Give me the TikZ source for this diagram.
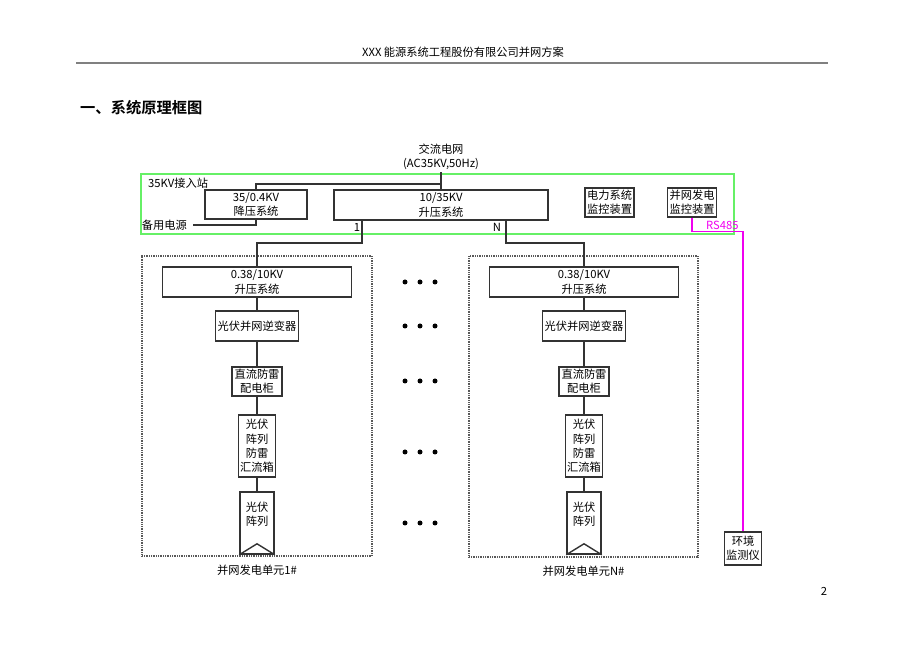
\documentclass[tikz,border=0pt]{standalone}
\usepackage{fontspec}
\newfontfamily\cjk{Noto Sans CJK SC}[BoldFont={Noto Sans CJK SC Bold}]
\usetikzlibrary{positioning,calc}
\definecolor{stationgreen}{RGB}{102,240,102}
\definecolor{rsmagenta}{RGB}{240,0,240}

\begin{document}
\begin{tikzpicture}[x=0.02cm, y=-0.02cm,
    font=\cjk\fontsize{6.4}{8.2}\selectfont,
    box/.style={draw=black!80, line width=0.9pt, align=center, inner sep=1pt},
    wire/.style={draw=black!80, line width=0.8pt},
    unitbox/.style={draw=black!65, line width=0.9pt, dash pattern=on 0.5pt off 0.5pt}]
\useasboundingbox (0,0) rectangle (920,651);

\node (head) at (463,52) {XXX 能源系统工程股份有限公司并网方案};
\draw[gray, line width=1.2pt] (76,63) -- (828,63);
\node[anchor=west, font=\cjk\bfseries\fontsize{8.7}{10}\selectfont] (title) at (74,108) {一、系统原理框图};

\draw[stationgreen, line width=1.1pt] (141,174) rectangle (734,234);
\node[anchor=west] (station) at (142,183) {35KV接入站};
\node[align=center, inner sep=1pt] (grid) at (441,157) {交流电网\\(AC35KV,50Hz)};
\node[box, minimum width=2.04cm, minimum height=0.58cm] (down) at (256,204.5) {35/0.4KV\\降压系统};
\node[box, minimum width=4.28cm, minimum height=0.6cm] (up) at (441,205) {10/35KV\\升压系统};
\node[box, minimum width=0.98cm, minimum height=0.58cm] (mon) at (609.5,202.5) {电力系统\\监控装置};
\node[box, minimum width=0.98cm, minimum height=0.58cm] (gridmon) at (692,202.5) {并网发电\\监控装置};
\node[anchor=east] (backup) at (193,225) {备用电源};
\coordinate (tap) at (441,184);
\draw[wire] (grid.south) -- (up.north);
\draw[wire] (tap) -| (down.north);
\draw[wire] (backup.east) -| (down.south);

\coordinate (outA) at (362,220);
\coordinate (outB) at (506,220);
\node (tagA) at (357,227) {1};
\node (tagB) at (497,227) {N};

\node[unitbox, minimum width=4.6cm, minimum height=6cm] (unitA) at (257,406) {};
\node[below=1pt of unitA] (unitAname) {并网发电单元1\#};
\node[box, minimum width=3.78cm, minimum height=0.6cm] (boostA) at (257,282) {0.38/10KV\\升压系统};
\node[box, minimum width=1.66cm, minimum height=0.6cm] (invA) at (257,326) {光伏并网逆变器};
\node[box, minimum width=1cm, minimum height=0.58cm] (dcA) at (257,381.5) {直流防雷\\配电柜};
\node[box, minimum width=0.72cm, minimum height=1.24cm] (combA) at (257,446) {光伏\\阵列\\防雷\\汇流箱};
\node[box, minimum width=0.68cm, minimum height=1.24cm,
    label={[align=center, yshift=0.18cm]center:光伏\\阵列}] (pvA) at (257,523) {};
\draw[wire] (pvA.south west) -- ($(pvA.south)+(0,-11)$) -- (pvA.south east);
\draw[wire] (boostA) -- (invA) -- (dcA) -- (combA) -- (pvA);
\draw[wire] (outA) -- ++(0,23) -| (boostA.north);

\node[unitbox, minimum width=4.58cm, minimum height=6.02cm] (unitB) at (583.5,406.5) {};
\node[below=1pt of unitB] (unitBname) {并网发电单元N\#};
\node[box, minimum width=3.78cm, minimum height=0.6cm] (boostB) at (584,282) {0.38/10KV\\升压系统};
\node[box, minimum width=1.66cm, minimum height=0.6cm] (invB) at (584,326) {光伏并网逆变器};
\node[box, minimum width=1cm, minimum height=0.58cm] (dcB) at (584,381.5) {直流防雷\\配电柜};
\node[box, minimum width=0.72cm, minimum height=1.24cm] (combB) at (584,446) {光伏\\阵列\\防雷\\汇流箱};
\node[box, minimum width=0.68cm, minimum height=1.24cm,
    label={[align=center, yshift=0.18cm]center:光伏\\阵列}] (pvB) at (584,523) {};
\draw[wire] (pvB.south west) -- ($(pvB.south)+(0,-11)$) -- (pvB.south east);
\draw[wire] (boostB) -- (invB) -- (dcB) -- (combB) -- (pvB);
\draw[wire] (outB) -- ++(0,23) -| (boostB.north);

\foreach \y in {282,326,381,452,523}
    \foreach \x in {405,420,435}
        \fill (\x,\y) circle (0.05cm);

\node[box, minimum width=0.7cm, minimum height=0.66cm] (env) at (743,548.5) {环境\\监测仪};
\draw[rsmagenta, line width=0.8pt] (gridmon.south) -- ++(0,14) -| (env.north);
\node[rsmagenta, anchor=south west, inner sep=0.5pt] (rs) at (705,231) {RS485};

\node (page) at (824,591) {2};
\end{tikzpicture}
\end{document}
